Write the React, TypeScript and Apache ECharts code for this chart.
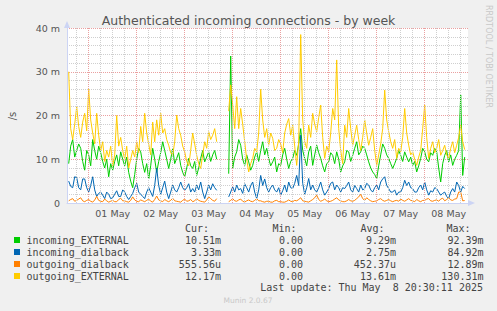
import React, { useEffect, useRef } from "react";
import * as echarts from "echarts";

// Time axis: hours since Apr 30 00:00. One sample per hour from 14h to 212h (gap 89h-93h).
const START_HOUR = 14;
const STEP_HOURS = 1;

const incomingExternal = [
  9, 13, 14.5, 10.5, 12, 13.5, 12.5, 9.5, 7.5, 12,
  11, 8.5, 14.5, 12, 10, 13, 11.5, 9.5, 8, 10,
  6, 9, 7.5, 9.5, 11, 8.5, 11.7, 10, 8.5, 10.5,
  7, 5, 3.5, 6.5, 10, 12.5, 11.7, 9, 7, 9,
  5.5, 8.5, 12.5, 10, 7, 9.5, 11.5, 14, 12, 10,
  7.9, 10, 12.5, 9, 10.2, 11.5, 8.6, 7, 6, 8,
  10.2, 8.5, 7.9, 9.5, 6.3, 8, 10.2, 12, 9.4, 10.5,
  11.7, 9.5, 11, 12, 10,
  null, null, null, null, null,
  6.7, 33.6, 8, 10.5, 11.7, 14.5, 13.2, 10, 8.6, 11,
  9.4, 7.5, 8.6, 10.5, 11.7, 9.5, 12, 14, 11, 12.5,
  10.2, 8.5, 9.4, 10.5, 7.1, 9, 8.6, 11, 12.5, 10,
  7.9, 9.5, 10.2, 12, 10.9, 13.5, 17, 12, 10.2, 8.5,
  11.7, 13, 8.6, 11, 13.2, 11.5, 10.2, 8.5, 7.1, 9,
  9.4, 11.5, 10.9, 9, 11.7, 10, 7.1, 8.5, 9.4, 12,
  11.7, 9.5, 10.9, 12.5, 14, 11, 11.7, 13, 12.5, 11,
  9.4, 8, 7.1, 6.5, 5.6, 8.5, 11, 13.5, 12.5, 11,
  10.2, 9, 7.9, 9, 10.2, 12, 10.9, 9.5, 11.7, 10.5,
  9.4, 10.5, 8.6, 9.5, 7.1, 8.5, 10.2, 12.5, 11.7, 10,
  9.4, 11.5, 10.9, 12.5, 11.7, 8, 4.8, 9, 10.9, 12,
  9.4, 11, 8.6, 10, 10.9, 12, 24.7, 6.3, 10.5,
];

const incomingDialback = [
  5, 3.8, 3.5, 6, 5.8, 3.5, 3, 5.5, 5.5, 3.5,
  2.5, 4, 6, 3, 1.5, 2.2, 2.5, 1.8, 1, 2.5,
  2, 1, 1.2, 2, 2.8, 1.5, 1.5, 3, 2.5, 1.5,
  0.8, 1.5, 2.2, 3.5, 4.5, 2.5, 2, 1.5, 1, 2.5,
  3.5, 2.5, 1.5, 4, 8, 4, 2, 3.5, 5, 2.5,
  1, 2.5, 4.1, 3, 2.5, 3.5, 4.8, 3.5, 2.9, 3.5,
  4.4, 2.5, 3.3, 2.5, 4.1, 3, 4.8, 2.5, 1, 2.5,
  4.1, 3, 4.4, 3.5, 2.9,
  null, null, null, null, null,
  1.4, 2.5, 3.7, 2.5, 4.1, 3, 3.3, 2.2, 4.4, 3.5,
  2.5, 4, 4.8, 2.5, 1, 3, 6.3, 4, 5.5, 3.5,
  2.5, 3.5, 4.1, 3, 2.5, 3.5, 1.8, 2.8, 4.1, 2.5,
  4.8, 3.5, 3.3, 4.5, 6.3, 4, 15.5, 4.5, 2, 3.5,
  5.6, 3, 4.1, 3, 2.5, 3.5, 4.8, 3, 1.8, 2.5,
  3.3, 4.5, 4.8, 3, 4.1, 3.5, 2.5, 3.5, 3.3, 4,
  4.8, 3, 2.5, 4, 3.3, 2.5, 4.1, 3, 3.3, 4.5,
  4.1, 3, 2.5, 3.5, 4.1, 3, 4.8, 5.5, 6, 4,
  3.3, 2.5, 2.5, 3, 1.8, 2.5, 2.5, 3.5, 5.2, 4,
  4.8, 3.5, 3.3, 2.5, 2.5, 3.5, 4.1, 3, 4.8, 3,
  1.8, 2.8, 2.5, 3.5, 3.3, 2.5, 1.8, 2.2, 2.5, 1.5,
  1, 2.5, 3.3, 2.5, 4.8, 4, 2.5, 3.8, 3.3,
];

const outgoingDialback = [
  0.5, 0.8, 1, 0.4, 0.6, 0.9, 1.2, 0.5, 0.3, 0.6,
  0.8, 0.4, 0.2, 0.7, 1.5, 0.6, 0.4, 0.3, 0.9, 0.5,
  0.2, 0.4, 0.6, 0.3, 0.3, 0.8, 1.1, 0.5, 0.5, 0.3,
  0.2, 0.6, 1.4, 0.7, 0.4, 0.3, 0.7, 0.5, 0.3, 0.6,
  0.9, 0.4, 0.2, 0.8, 1.6, 0.7, 0.5, 0.3, 0.8, 0.5,
  0.3, 0.6, 1.1, 0.5, 0.4, 0.3, 0.2, 0.6, 0.9, 0.4,
  0.5, 0.8, 0.3, 0.5, 1, 0.6, 0.4, 0.3, 0.2, 0.7,
  1.4, 1, 0.6, 0.4, 1,
  null, null, null, null, null,
  0.3, 0.6, 1, 0.5, 0.4, 0.7, 0.9, 0.4, 0.2, 0.5,
  0.7, 0.4, 0.3, 0.6, 1, 0.5, 0.5, 0.3, 0.2, 0.4,
  0.4, 0.2, 0.2, 0.5, 0.6, 0.3, 0.3, 0.2, 0.2, 0.4,
  0.7, 0.4, 0.3, 0.6, 0.5, 0.8, 1.2, 0.5, 0.4, 0.3,
  0.2, 0.5, 0.8, 1.2, 1.8, 0.8, 0.4, 0.6, 0.9, 0.5,
  0.3, 0.4, 0.6, 0.9, 1.2, 0.7, 0.5, 0.3, 0.3, 0.5,
  0.8, 0.5, 0.4, 0.6, 1, 1.4, 2, 1, 0.6, 1.2,
  0.8, 0.5, 0.3, 0.4, 0.5, 0.8, 1, 0.6, 0.4, 0.6,
  0.8, 0.5, 0.3, 0.5, 0.6, 0.4, 0.9, 0.6, 0.4, 0.7,
  1, 0.6, 0.5, 0.3, 0.8, 0.5, 0.3, 0.6, 0.6, 0.9,
  1, 0.5, 0.4, 0.6, 0.7, 0.4, 0.9, 1.1, 0.5, 0.8,
  1.2, 0.7, 0.6, 0.9, 1, 2.5, 2.5, 0.5, 0.56,
];

const outgoingExternal = [
  30, 17, 14.5, 18, 22, 17.5, 15, 18.5, 20.5, 16.5,
  26, 19, 16, 13.5, 20.5, 15.5, 12, 14, 9.5, 12,
  10.5, 13, 8.5, 11, 20, 13, 15, 12, 10, 13,
  8, 10, 12, 10.5, 14, 11.5, 17.5, 14, 20.5, 16,
  13.5, 11, 18.5, 14, 19, 15.5, 20.5, 16, 17, 14.5,
  13.2, 11.5, 10.9, 14, 20.1, 17, 15.5, 13, 11.7, 9.5,
  8.5, 12, 16, 13.5, 10.9, 9, 7.9, 11, 14, 12.5,
  16.3, 14.5, 15.5, 17, 14,
  null, null, null, null, null,
  21, 27, 22.4, 17, 24.3, 17, 21.6, 18, 14, 10,
  7.1, 9, 10.2, 12.5, 11.7, 16, 26, 19, 15, 17,
  13.2, 16, 14.8, 12, 12.5, 14.5, 13.5, 11.5, 16, 18,
  19.3, 15.5, 17.8, 13, 8.6, 14, 38.5, 19, 14, 12.5,
  17.8, 15, 20.5, 18, 16.3, 19.5, 22.4, 15, 10.2, 13,
  11.7, 16, 21.6, 19, 32.7, 17, 12, 9, 17.8, 15,
  21.6, 17, 13.2, 15.5, 17.8, 14.5, 12, 15, 19, 16,
  13.2, 15, 17, 12, 8.6, 11, 13.5, 17, 25.8, 19,
  16.3, 14, 12.5, 14.5, 10.2, 12.5, 11.7, 15, 21.6, 16,
  13.2, 11, 11.7, 10, 8.6, 10.5, 12, 17, 22.4, 15,
  10.2, 12.5, 14, 11.5, 12.5, 14.5, 10.9, 12, 13.2, 11,
  10.2, 12.5, 14, 11.5, 13.2, 15, 17.8, 14, 12.2,
];

const SERIES_NAMES = ["incoming_EXTERNAL", "incoming_dialback", "outgoing_dialback", "outgoing_EXTERNAL"];
const SERIES_COLORS = ["#00CC00", "#0066B3", "#FF8000", "#FFCC00"];
const CUR = ["10.51m", "3.33m", "555.56u", "12.17m"];
const MIN = ["0.00", "0.00", "0.00", "0.00"];
const AVG = ["9.29m", "2.75m", "452.37u", "13.61m"];
const MAX = ["92.39m", "84.92m", "12.89m", "130.31m"];

const DAY_LABELS = ["01 May", "02 May", "03 May", "04 May", "05 May", "06 May", "07 May", "08 May"];
const DAY_NOON_HOURS = [36, 60, 84, 108, 132, 156, 180, 204];
const GRID_HOURS = [18, 24, 30, 36, 42, 48, 54, 60, 66, 72, 78, 84, 90, 96, 102, 108, 114, 120, 126, 132, 138, 144, 150, 156, 162, 168, 174, 180, 186, 192, 198, 204, 210];

const X_MIN = 13.15;
const X_MAX = 213.65;

function toPairs(vals: (number | null)[]) {
  return vals.map((v, i) => [START_HOUR + i * STEP_HOURS, v]);
}

const MONO = "'DejaVu Sans Mono', monospace";
const SANS = "'DejaVu Sans', sans-serif";

export default function App() {
  const ref = useRef<HTMLDivElement>(null);
  useEffect(() => {
    if (!ref.current) return;
    const chart = echarts.init(ref.current, null, { renderer: "svg" });
    const allValues = [incomingExternal, incomingDialback, outgoingDialback, outgoingExternal];

    const g: any[] = [];
    const headerY = 228;
    const rowY = [240, 252, 264, 276];
    const textColor = "#444";
    const headers = [
      { t: "Cur:", x: 185 },
      { t: "Min:", x: 272.5 },
      { t: "Avg:", x: 360.5 },
      { t: "Max:", x: 446.5 },
    ];
    headers.forEach((h) =>
      g.push({
        type: "text",
        x: h.x,
        y: headerY,
        style: { text: h.t, font: `10px ${MONO}`, fill: textColor, textVerticalAlign: "middle" },
      })
    );
    SERIES_NAMES.forEach((name, i) => {
      g.push({
        type: "rect",
        shape: { x: 14, y: rowY[i] - 3, width: 6, height: 6 },
        style: { fill: SERIES_COLORS[i] },
      });
      g.push({
        type: "text",
        x: 26.5,
        y: rowY[i],
        style: { text: name, font: `10px ${MONO}`, fill: textColor, textVerticalAlign: "middle" },
      });
      const cols = [
        { v: CUR[i], x: 221 },
        { v: MIN[i], x: 303 },
        { v: AVG[i], x: 396 },
        { v: MAX[i], x: 483.5 },
      ];
      cols.forEach((c) =>
        g.push({
          type: "text",
          x: c.x,
          y: rowY[i],
          style: { text: c.v, font: `10px ${MONO}`, fill: textColor, textAlign: "right", textVerticalAlign: "middle" },
        })
      );
    });
    g.push({
      type: "text",
      x: 483,
      y: 287.5,
      style: { text: "Last update: Thu May  8 20:30:11 2025", font: `10px ${MONO}`, fill: textColor, textAlign: "right", textVerticalAlign: "middle" },
    });
    g.push({
      type: "text",
      x: 248,
      y: 300,
      style: { text: "Munin 2.0.67", font: `7.5px ${SANS}`, fill: "#c8c8c8", textAlign: "center", textVerticalAlign: "middle" },
    });
    g.push({
      type: "text",
      x: 12,
      y: 116,
      rotation: Math.PI / 2,
      style: { text: "/s", font: `10px ${SANS}`, fill: "#555", textAlign: "center", textVerticalAlign: "middle" },
    });
    g.push({
      type: "text",
      x: 488,
      y: 5,
      rotation: -Math.PI / 2,
      style: { text: "RRDTOOL / TOBI OETIKER", font: `8px ${SANS}`, fill: "#c8c8c8", textAlign: "left", textVerticalAlign: "middle" },
    });
    g.push({
      type: "polygon",
      shape: { points: [[64, 28], [70, 28], [67, 21]] },
      style: { fill: "#ccd4f4" },
    });
    g.push({
      type: "polygon",
      shape: { points: [[468, 200], [468, 206], [475, 203]] },
      style: { fill: "#ccd4f4" },
    });

    const dataSeries = SERIES_NAMES.map((name, i) => ({
      name,
      type: "line",
      data: toPairs(allValues[i]),
      showSymbol: false,
      symbol: "none",
      connectNulls: false,
      lineStyle: { width: 1, color: SERIES_COLORS[i] },
      itemStyle: { color: SERIES_COLORS[i] },
      z: 3,
    }));

    chart.setOption({
      animation: false,
      backgroundColor: "#F0F0F0",
      title: {
        text: "Authenticated incoming connections - by week",
        left: "center",
        top: 9,
        textStyle: { fontFamily: SANS, fontSize: 12.5, fontWeight: "normal", color: "#555" },
      },
      grid: {
        left: 67,
        top: 28,
        width: 401,
        height: 175,
        show: true,
        backgroundColor: "#ffffff",
        borderWidth: 0,
      },
      xAxis: {
        type: "value",
        min: X_MIN,
        max: X_MAX,
        axisLine: { show: true, lineStyle: { color: "#ccd4f4", width: 1 } },
        axisTick: { show: false },
        splitLine: { show: false },
        axisLabel: {
          customValues: DAY_NOON_HOURS,
          formatter: (v: number) => {
            const idx = DAY_NOON_HOURS.indexOf(Math.round(v));
            return idx >= 0 ? DAY_LABELS[idx] : "";
          },
          fontFamily: SANS,
          fontSize: 9.5,
          color: "#555",
          margin: 5,
        },
      },
      yAxis: {
        type: "value",
        min: 0,
        max: 40,
        interval: 10,
        axisLine: { show: true, lineStyle: { color: "#ccd4f4", width: 1 } },
        axisTick: { show: false },
        axisLabel: {
          formatter: (v: number) => (v !== 0 ? `${v} m` : `${v}`),
          fontFamily: SANS,
          fontSize: 9.5,
          color: "#555",
          margin: 7,
        },
        splitLine: { show: true, lineStyle: { color: "#eaa0a0", type: [1, 1], width: 1 } },
        minorTick: { show: false, splitNumber: 5 },
        minorSplitLine: { show: true, lineStyle: { color: "#cfcfcf", type: [1, 1], width: 1 } },
      },
      graphic: g,
      series: [
        {
          name: "grid",
          type: "line",
          data: [],
          z: 1,
          silent: true,
          markLine: {
            silent: true,
            symbol: "none",
            label: { show: false },
            animation: false,
            data: GRID_HOURS.map((h) => ({
              xAxis: h,
              lineStyle: {
                color: h % 24 === 0 ? "#eaa0a0" : "#cfcfcf",
                type: [1, 1],
                width: 1,
              },
            })),
          },
        },
        ...dataSeries,
      ],
    });
    return () => chart.dispose();
  }, []);
  return <div ref={ref} style={{ width: 497, height: 311, position: "absolute", left: 0, top: 0 }} />;
}
